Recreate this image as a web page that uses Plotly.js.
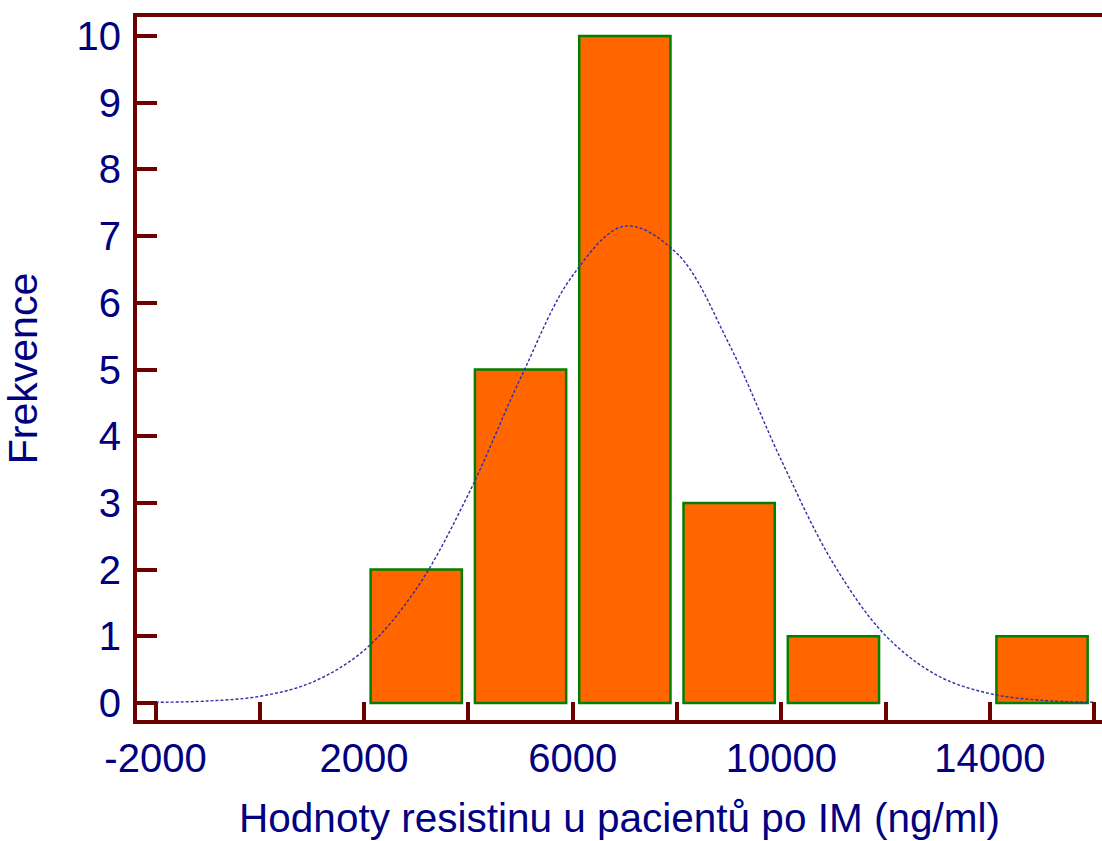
<!DOCTYPE html>
<html>
<head>
<meta charset="utf-8">
<script src="https://cdn.plot.ly/plotly-3.0.1.min.js"></script>
<style>html,body{margin:0;padding:0;background:#fff;}#chart{width:1102px;height:841px;}</style>
</head>
<body>
<div id="chart"></div>
<script>
// Histogram bins (centers) and frequencies
const binCenters = [3000, 5000, 7000, 9000, 11000, 13000, 15000];
const frequencies = [2, 5, 10, 3, 1, 0, 1];

// Fitted normal curve
const curveX = [-2000, -1000, 0, 1000, 2000, 3000, 4000, 5000, 6000, 7000, 8000, 9000, 10000, 11000, 12000, 13000, 14000, 15000, 16000];
const curveY = [0.01, 0.03, 0.10, 0.31, 0.79, 1.71, 3.13, 4.87, 6.41, 7.15, 6.74, 5.38, 3.64, 2.09, 1.01, 0.41, 0.14, 0.04, 0.01];

// Axis ticks
const xTickVals = [-2000, 0, 2000, 4000, 6000, 8000, 10000, 12000, 14000, 16000];
const xTickText = ["-2000", "", "2000", "", "6000", "", "10000", "", "14000", ""];
const yTickVals = [0, 1, 2, 3, 4, 5, 6, 7, 8, 9, 10];

const axisColor = '#6e0000';
const textColor = '#000080';
const font = 'Liberation Sans, Arial, sans-serif';

const traces = [
  {
    type: 'bar',
    x: binCenters,
    y: frequencies,
    width: 1750,
    marker: {color: '#ff6600', line: {color: '#008000', width: frequencies.map(f => f > 0 ? 2.5 : 0)}},
    hoverinfo: 'x+y'
  },
  {
    type: 'scatter',
    mode: 'lines',
    x: curveX,
    y: curveY,
    line: {color: '#2e2ea6', width: 1.4, dash: '3px,2px', shape: 'spline'},
    hoverinfo: 'skip'
  }
];

const layout = {
  width: 1102,
  height: 841,
  margin: {l: 137, r: 0, t: 17, b: 121},
  paper_bgcolor: '#ffffff',
  plot_bgcolor: '#ffffff',
  showlegend: false,
  font: {family: font, color: textColor, size: 40},
  xaxis: {
    range: [-2355, 16150],
    tickmode: 'array',
    tickvals: xTickVals,
    ticktext: xTickText,
    ticks: 'inside',
    ticklen: 18,
    tickwidth: 4,
    tickcolor: axisColor,
    showline: true,
    linecolor: axisColor,
    linewidth: 4,
    mirror: true,
    showgrid: false,
    zeroline: false,
    tickfont: {family: font, color: textColor, size: 40},
    title: {text: 'Hodnoty resistinu u pacientů po IM (ng/ml)', font: {family: font, color: textColor, size: 40.5}, standoff: 26}
  },
  yaxis: {
    range: [-0.255, 10.285],
    tickmode: 'array',
    tickvals: yTickVals,
    ticks: 'inside',
    ticklen: 20,
    tickwidth: 4,
    tickcolor: axisColor,
    showline: true,
    linecolor: axisColor,
    linewidth: 4,
    showgrid: false,
    zeroline: false,
    ticklabelstandoff: 4,
    tickfont: {family: font, color: textColor, size: 40},
    title: {text: 'Frekvence', font: {family: font, color: textColor, size: 41}, standoff: 30}
  }
};

Plotly.newPlot('chart', traces, layout, {displayModeBar: false, staticPlot: true});
</script>
</body>
</html>
